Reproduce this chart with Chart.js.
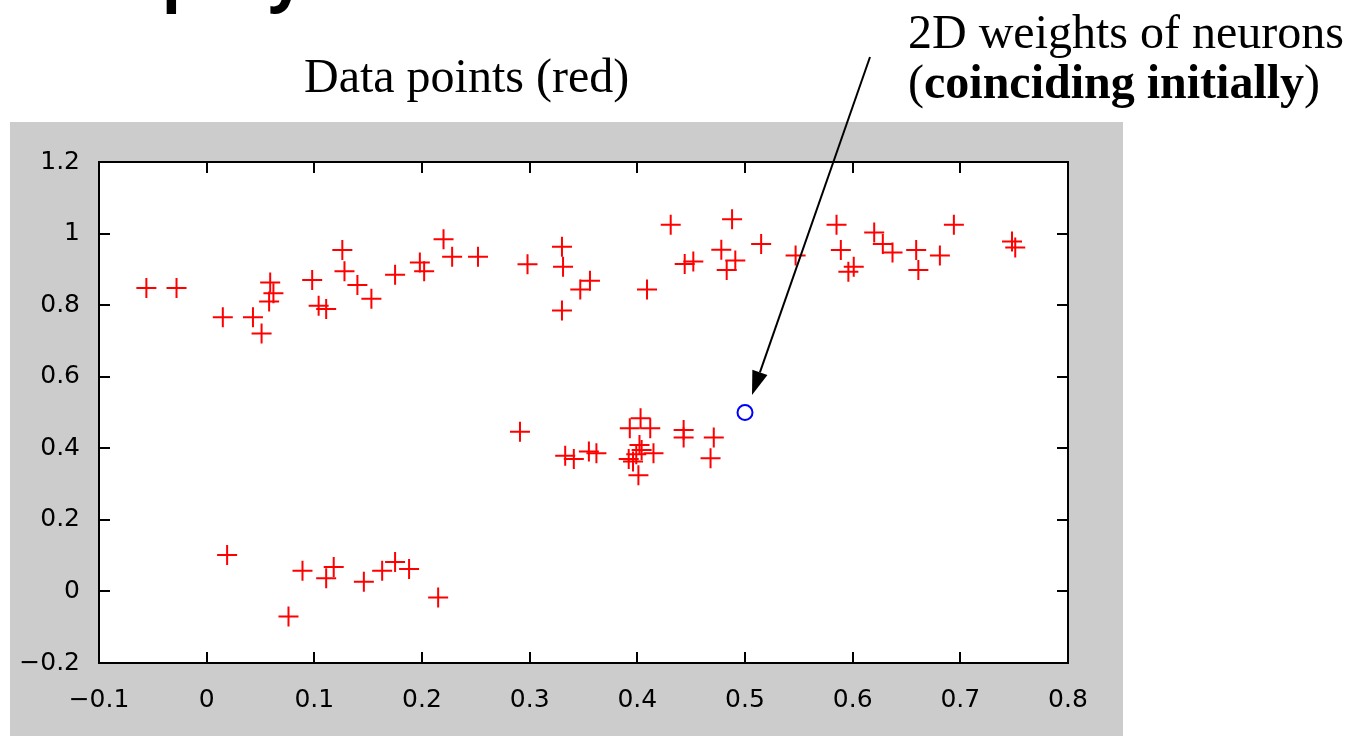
<!DOCTYPE html>
<html>
<head>
  <meta charset="utf-8">
  <title>Data points and neuron weights</title>
  <script src="https://cdn.jsdelivr.net/npm/chart.js"></script>
  <style>
    html, body { margin: 0; padding: 0; background: #fff; overflow: hidden; }
    #wrap { position: relative; width: 1353px; height: 736px; }
    .txt { position: absolute; white-space: nowrap; color: #000; }
  </style>
</head>
<body>
<div id="wrap">
  <canvas id="somChart"></canvas>
  <div class="txt" style="left:0px; top:-57px; font:700 63px 'Open Sans'; line-height:63px;">s to spray</div>
  <div class="txt" style="left:304px; top:52px; font:48px 'Liberation Serif'; line-height:48px;">Data points (red)</div>
  <div class="txt" style="left:908px; top:7px; font:48px 'Liberation Serif'; line-height:50px;">2D weights of neurons<br>(<b>coinciding initially</b>)</div>
</div>

<script>
  // red "+" data points
  const dataX = [
    -0.056, -0.028, 0.015, 0.043, 0.051, 0.059, 0.062, 0.058, 0.098, 0.126,
    0.128, 0.140, 0.153, 0.104, 0.111, 0.175, 0.198, 0.202, 0.220, 0.228,
    0.252, 0.298, 0.330, 0.331, 0.347, 0.356, 0.330, 0.409, 0.431, 0.444,
    0.452, 0.478, 0.483, 0.491, 0.515, 0.488, 0.547, 0.585, 0.589, 0.596,
    0.601, 0.620, 0.628, 0.637, 0.659, 0.661, 0.681, 0.694, 0.748, 0.751,
    0.291, 0.333, 0.341, 0.355, 0.362, 0.393, 0.403, 0.412, 0.392, 0.396,
    0.399, 0.402, 0.404, 0.415, 0.401, 0.443, 0.443, 0.471, 0.468,
    0.019, 0.076, 0.089, 0.111, 0.118, 0.146, 0.163, 0.175, 0.188, 0.215
  ];
  const dataY = [
    0.848, 0.848, 0.766, 0.766, 0.721, 0.863, 0.833, 0.810, 0.870, 0.954,
    0.895, 0.856, 0.818, 0.798, 0.789, 0.885, 0.919, 0.895, 0.984, 0.935,
    0.935, 0.914, 0.963, 0.907, 0.844, 0.868, 0.785, 0.844, 1.025, 0.915,
    0.922, 0.955, 0.898, 0.925, 0.971, 1.040, 0.939, 1.025, 0.954, 0.893,
    0.907, 1.003, 0.971, 0.947, 0.954, 0.898, 0.939, 1.025, 0.978, 0.961,
    0.446, 0.379, 0.370, 0.391, 0.386, 0.456, 0.484, 0.456, 0.370, 0.363,
    0.383, 0.409, 0.395, 0.386, 0.325, 0.451, 0.430, 0.430, 0.372,
    0.102, -0.070, 0.058, 0.037, 0.068, 0.027, 0.058, 0.082, 0.063, -0.017
  ];

  // blue "o" neuron weights (all neurons start on the same spot)
  const neuronX = [0.5];
  const neuronY = [0.5];

  const xTickLabels = ['\u22120.1', '0', '0.1', '0.2', '0.3', '0.4', '0.5', '0.6', '0.7', '0.8'];
  const yTickLabels = ['\u22120.2', '0', '0.2', '0.4', '0.6', '0.8', '1', '1.2'];

  const toPoints = (xs, ys) => xs.map((x, i) => ({ x: x, y: ys[i] }));

  // grey figure window + white axes box
  const figureBg = {
    id: 'figureBg',
    beforeDraw(chart) {
      const ctx = chart.ctx, a = chart.chartArea;
      ctx.save();
      ctx.fillStyle = '#ffffff';
      ctx.fillRect(0, 0, chart.width, chart.height);
      ctx.fillStyle = '#cccccc';
      ctx.fillRect(10, 122, 1113, chart.height - 122);
      ctx.fillStyle = '#ffffff';
      ctx.fillRect(a.left, a.top, a.right - a.left, a.bottom - a.top);
      ctx.restore();
    }
  };

  // matlab style box with inward ticks on all four sides
  const axesBox = {
    id: 'axesBox',
    beforeDatasetsDraw(chart) {
      const ctx = chart.ctx, a = chart.chartArea;
      const xs = chart.scales.x, ys = chart.scales.y;
      const len = 11;
      ctx.save();
      ctx.strokeStyle = '#000';
      ctx.lineWidth = 2;
      ctx.strokeRect(a.left, a.top, a.right - a.left, a.bottom - a.top);
      ctx.beginPath();
      xs.ticks.forEach(t => {
        const px = Math.round(xs.getPixelForValue(t.value));
        ctx.moveTo(px, a.bottom); ctx.lineTo(px, a.bottom - len);
        ctx.moveTo(px, a.top); ctx.lineTo(px, a.top + len);
      });
      ys.ticks.forEach(t => {
        const py = Math.round(ys.getPixelForValue(t.value));
        ctx.moveTo(a.left, py); ctx.lineTo(a.left + len, py);
        ctx.moveTo(a.right, py); ctx.lineTo(a.right - len, py);
      });
      ctx.stroke();
      ctx.restore();
    }
  };

  // annotation arrow from the label down to the neuron
  const arrow = {
    id: 'arrow',
    afterDraw(chart) {
      const ctx = chart.ctx;
      const x0 = 870, y0 = 57, x1 = 752, y1 = 395;
      const ang = Math.atan2(y1 - y0, x1 - x0);
      const hl = 24, hw = 8;
      const bx = x1 - hl * Math.cos(ang), by = y1 - hl * Math.sin(ang);
      ctx.save();
      ctx.strokeStyle = '#000';
      ctx.fillStyle = '#000';
      ctx.lineWidth = 2;
      ctx.beginPath();
      ctx.moveTo(x0, y0);
      ctx.lineTo(bx, by);
      ctx.stroke();
      ctx.beginPath();
      ctx.moveTo(x1, y1);
      ctx.lineTo(bx + hw * Math.sin(ang), by - hw * Math.cos(ang));
      ctx.lineTo(bx - hw * Math.sin(ang), by + hw * Math.cos(ang));
      ctx.closePath();
      ctx.fill();
      ctx.restore();
    }
  };

  const tickFont = { family: 'DejaVu Sans', size: 25 };

  new Chart(document.getElementById('somChart'), {
    type: 'scatter',
    data: {
      datasets: [
        {
          label: 'Data points',
          data: toPoints(dataX, dataY),
          pointStyle: 'cross',
          radius: 10,
          borderWidth: 2,
          borderColor: '#ff0000',
          backgroundColor: '#ff0000'
        },
        {
          label: 'Neuron weights',
          data: toPoints(neuronX, neuronY),
          pointStyle: 'circle',
          radius: 7.5,
          borderWidth: 2,
          borderColor: '#0000ff',
          backgroundColor: 'rgba(0,0,0,0)'
        }
      ]
    },
    options: {
      responsive: true,
      maintainAspectRatio: false,
      animation: false,
      layout: { padding: { top: 162, right: 285, bottom: 0, left: 0 } },
      plugins: { legend: { display: false }, tooltip: { enabled: false } },
      scales: {
        x: {
          type: 'linear',
          min: -0.1,
          max: 0.8,
          grid: { display: false },
          border: { display: false },
          afterFit: s => { s.height = 73; },
          ticks: {
            stepSize: 0.1,
            padding: 14,
            color: '#000',
            font: tickFont,
            maxRotation: 0,
            autoSkip: false,
            callback: (v, i) => xTickLabels[i]
          }
        },
        y: {
          type: 'linear',
          min: -0.2,
          max: 1.2,
          grid: { display: false },
          border: { display: false },
          afterFit: s => { s.width = 99; },
          ticks: {
            stepSize: 0.2,
            padding: 11,
            color: '#000',
            font: tickFont,
            autoSkip: false,
            callback: (v, i) => yTickLabels[i]
          }
        }
      }
    },
    plugins: [figureBg, axesBox, arrow]
  });
</script>
</body>
</html>
